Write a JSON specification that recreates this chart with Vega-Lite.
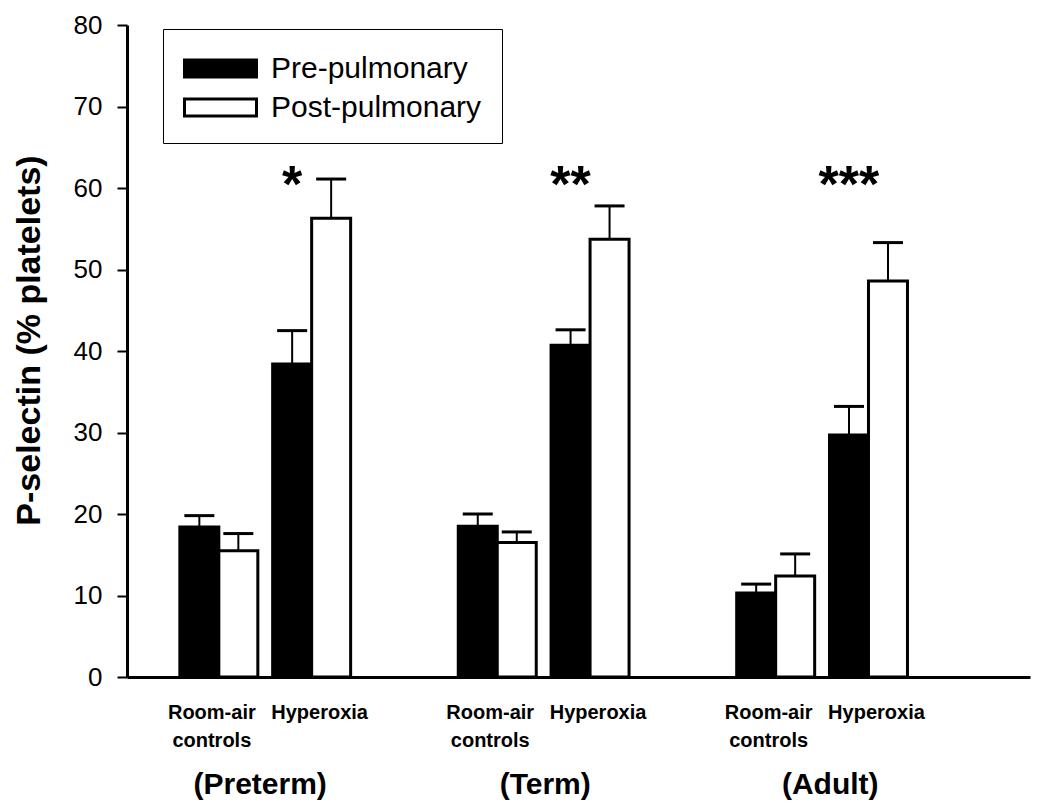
{
  "$schema": "https://vega.github.io/schema/vega-lite/v6.json",
  "autosize": "none",
  "width": 903,
  "height": 652,
  "padding": {"left": 127, "top": 25, "right": 8, "bottom": 134},
  "background": "white",
  "config": {"view": {"stroke": null}, "font": "Liberation Sans"},
  "datasets": {
    "bars": [
      {"group": "Preterm", "slot": "Preterm RA", "type": "Pre-pulmonary", "value": 18.4, "upper": 19.8},
      {"group": "Preterm", "slot": "Preterm RA", "type": "Post-pulmonary", "value": 15.5, "upper": 17.6},
      {"group": "Preterm", "slot": "Preterm HY", "type": "Pre-pulmonary", "value": 38.4, "upper": 42.5},
      {"group": "Preterm", "slot": "Preterm HY", "type": "Post-pulmonary", "value": 56.3, "upper": 61.1},
      {"group": "Term", "slot": "Term RA", "type": "Pre-pulmonary", "value": 18.5, "upper": 20.0},
      {"group": "Term", "slot": "Term RA", "type": "Post-pulmonary", "value": 16.5, "upper": 17.8},
      {"group": "Term", "slot": "Term HY", "type": "Pre-pulmonary", "value": 40.7, "upper": 42.6},
      {"group": "Term", "slot": "Term HY", "type": "Post-pulmonary", "value": 53.7, "upper": 57.8},
      {"group": "Adult", "slot": "Adult RA", "type": "Pre-pulmonary", "value": 10.3, "upper": 11.4},
      {"group": "Adult", "slot": "Adult RA", "type": "Post-pulmonary", "value": 12.4, "upper": 15.1},
      {"group": "Adult", "slot": "Adult HY", "type": "Pre-pulmonary", "value": 29.7, "upper": 33.2},
      {"group": "Adult", "slot": "Adult HY", "type": "Post-pulmonary", "value": 48.6, "upper": 53.3}
    ],
    "stars": [
      {"slot": "Preterm HY", "type": "Pre-pulmonary", "label": "*"},
      {"slot": "Term HY", "type": "Pre-pulmonary", "label": "**"},
      {"slot": "Adult HY", "type": "Pre-pulmonary", "label": "***"}
    ],
    "groups": [
      {"group": "(Preterm)"},
      {"group": "(Term)"},
      {"group": "(Adult)"}
    ]
  },
  "layer": [
    {
      "encoding": {
        "x": {
          "field": "slot",
          "type": "nominal",
          "scale": {
            "domain": ["Preterm RA", "Preterm HY", "gap1", "Term RA", "Term HY", "gap2", "Adult RA", "Adult HY"],
            "paddingInner": 0,
            "paddingOuter": 0.865,
            "align": 0.283
          },
          "axis": {
            "title": null,
            "domainWidth": 3,
            "domainColor": "black",
            "ticks": false,
            "labelAngle": 0,
            "labelFontSize": 20,
            "labelFontWeight": "bold",
            "labelColor": "black",
            "labelPadding": 25,
            "labelLineHeight": 28,
            "labelBaseline": "top",
            "labelOverlap": false,
            "labelOffset": {"condition": {"test": "indexof(datum.value,'HY')>=0", "value": 8}, "value": -7},
            "labelExpr": "indexof(datum.value,'RA')>=0 ? ['Room-air','controls'] : (indexof(datum.value,'HY')>=0 ? 'Hyperoxia' : '')"
          }
        },
        "xOffset": {
          "field": "type",
          "type": "nominal",
          "scale": {"domain": ["Pre-pulmonary", "Post-pulmonary"], "paddingInner": 0, "paddingOuter": 0.19}
        }
      },
      "layer": [
        {
          "data": {"name": "bars"},
          "mark": {"type": "bar", "stroke": "black", "strokeWidth": 3},
          "encoding": {
            "y": {
              "field": "value",
              "type": "quantitative",
              "scale": {"domain": [0, 80], "nice": false},
              "axis": {
                "title": "P-selectin (% platelets)",
                "titleFontSize": 34,
                "titleFontWeight": "bold",
                "titleColor": "black",
                "titlePadding": 27,
                "titleY": 315,
                "labelFontSize": 26,
                "labelColor": "black",
                "labelPadding": 15,
                "tickSize": 10,
                "tickWidth": 2,
                "tickColor": "black",
                "domainWidth": 3,
                "domainColor": "black",
                "grid": false,
                "values": [0, 10, 20, 30, 40, 50, 60, 70, 80]
              }
            },
            "fill": {
              "field": "type",
              "type": "nominal",
              "scale": {"domain": ["Pre-pulmonary", "Post-pulmonary"], "range": ["black", "white"]},
              "legend": {
                "orient": "none",
                "legendX": 36,
                "legendY": 4,
                "title": null,
                "strokeColor": "black",
                "fillColor": "white",
                "padding": 20,
                "labelFontSize": 30,
                "labelColor": "black",
                "labelLimit": 400,
                "labelOffset": 31,
                "symbolOffset": 18,
                "rowPadding": 4,
                "symbolType": "M-2,-0.47H2V0.47H-2Z",
                "symbolSize": 1296,
                "symbolStrokeColor": "black",
                "symbolStrokeWidth": 3
              }
            }
          }
        },
        {
          "data": {"name": "bars"},
          "mark": {"type": "rule", "color": "black", "strokeWidth": 2, "opacity": 1},
          "encoding": {
            "y": {"field": "value", "type": "quantitative"},
            "y2": {"field": "upper"}
          }
        },
        {
          "data": {"name": "bars"},
          "mark": {"type": "tick", "color": "black", "opacity": 1, "thickness": 3, "size": 30, "orient": "horizontal"},
          "encoding": {
            "y": {"field": "upper", "type": "quantitative"}
          }
        },
        {
          "data": {"name": "stars"},
          "mark": {"type": "text", "fontSize": 52, "fontWeight": "bold", "baseline": "alphabetic", "align": "center", "color": "black"},
          "encoding": {
            "y": {"datum": 58.3, "type": "quantitative"},
            "text": {"field": "label"}
          }
        }
      ]
    },
    {
      "data": {"name": "groups"},
      "mark": {"type": "text", "fontSize": 30, "fontWeight": "bold", "baseline": "alphabetic", "align": "center", "color": "black", "clip": false},
      "encoding": {
        "x": {
          "field": "group",
          "type": "nominal",
          "sort": null,
          "scale": {"type": "point", "padding": 0.584, "align": 0.4},
          "axis": null
        },
        "y": {"datum": -14.4, "type": "quantitative"},
        "text": {"field": "group"}
      }
    }
  ],
  "resolve": {"scale": {"x": "independent"}}
}
